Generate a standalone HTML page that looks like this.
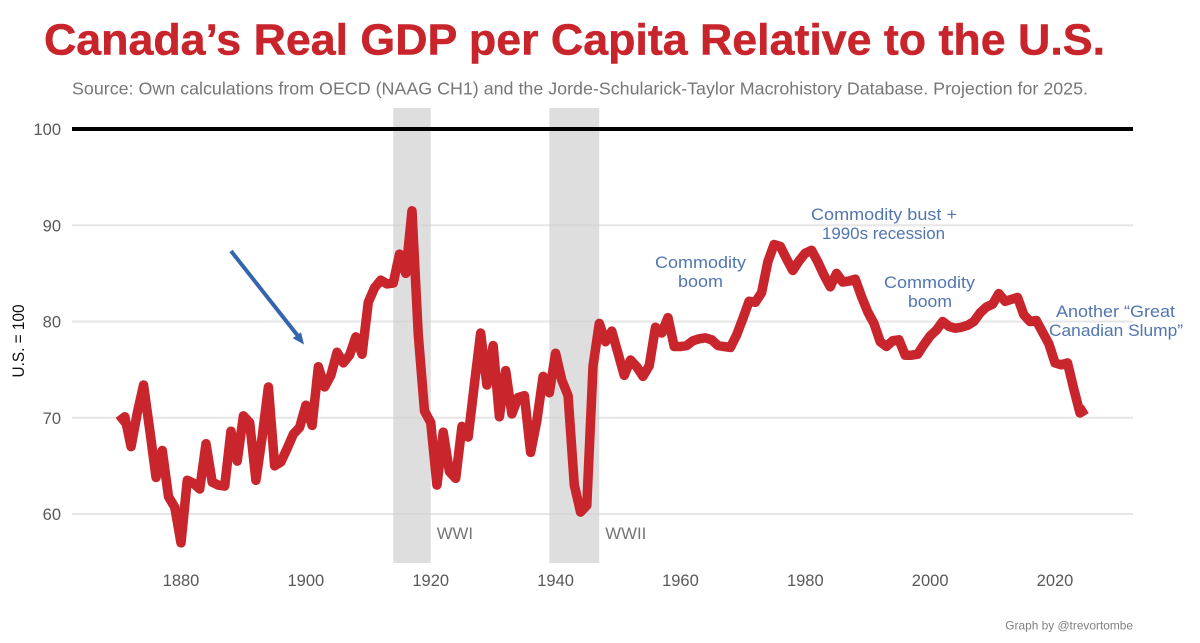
<!DOCTYPE html>
<html lang="en">
<head>
<meta charset="utf-8">
<title>Canada's Real GDP per Capita Relative to the U.S.</title>
<style>
html,body{margin:0;padding:0;background:#fff;width:1200px;height:643px;overflow:hidden}
svg{display:block;font-family:"Liberation Sans",sans-serif}
</style>
</head>
<body>
<svg id="chart" xmlns="http://www.w3.org/2000/svg" width="1200" height="643" viewBox="0 0 1200 643">
  <text x="44" y="54.5" font-size="44" font-weight="700" fill="#c8242b" stroke="#c8242b" stroke-width="0.5" textLength="1061" lengthAdjust="spacingAndGlyphs">Canada’s Real GDP per Capita Relative to the U.S.</text>
  <text x="72" y="94.5" font-size="17.6" fill="#777777" textLength="1016" lengthAdjust="spacingAndGlyphs">Source: Own calculations from OECD (NAAG CH1) and the Jorde-Schularick-Taylor Macrohistory Database. Projection for 2025.</text>
  <g id="grid"></g>
  <g id="shades"></g>
  <g id="gridOver"></g>
  <g id="yAxis"></g>
  <g id="xAxis"></g>
  <text transform="translate(24,341) rotate(-90)" text-anchor="middle" font-size="17" fill="#111" textLength="73" lengthAdjust="spacingAndGlyphs">U.S. = 100</text>
  <g id="series"></g>
  <g id="arrow"></g>
  <g font-size="16.6" fill="#5275b0">
    <text x="655" y="268" textLength="91" lengthAdjust="spacingAndGlyphs">Commodity</text>
    <text x="678" y="287" textLength="45" lengthAdjust="spacingAndGlyphs">boom</text>
    <text x="811" y="220" textLength="146" lengthAdjust="spacingAndGlyphs">Commodity bust +</text>
    <text x="822" y="239" textLength="123" lengthAdjust="spacingAndGlyphs">1990s recession</text>
    <text x="884" y="288" textLength="91" lengthAdjust="spacingAndGlyphs">Commodity</text>
    <text x="908" y="307" textLength="44" lengthAdjust="spacingAndGlyphs">boom</text>
    <text x="1056" y="317" textLength="119" lengthAdjust="spacingAndGlyphs">Another “Great</text>
    <text x="1049" y="336" textLength="134" lengthAdjust="spacingAndGlyphs">Canadian Slump”</text>
  </g>
  <text x="1133" y="629.5" font-size="11.9" fill="#808080" text-anchor="end">Graph by @trevortombe</text>
</svg>
<script>
const firstYear = 1870;
const gdpRelative = [
  69.6,70.1,67.0,70.5,73.4,68.7,63.8,66.6,61.8,60.7,
  57.0,63.5,63.2,62.6,67.3,63.3,63.0,62.9,68.6,65.5,
  70.2,69.5,63.5,68.0,73.2,65.0,65.4,66.8,68.3,69.0,
  71.3,69.2,75.3,73.2,74.4,76.8,75.7,76.5,78.4,76.6,
  82.0,83.5,84.3,83.9,84.0,87.0,85.0,91.5,78.7,70.7,
  69.5,63.0,68.5,64.4,63.7,69.1,68.0,73.5,78.8,73.4,
  77.5,70.1,74.9,70.4,72.1,72.3,66.4,69.7,74.3,72.6,
  76.7,73.9,72.3,63.0,60.2,60.9,75.4,79.8,77.9,79.0,
  76.7,74.4,76.0,75.3,74.3,75.4,79.4,78.8,80.4,77.4,
  77.4,77.5,78.0,78.2,78.3,78.1,77.5,77.4,77.3,78.6,
  80.3,82.1,82.0,83.0,86.2,88.0,87.8,86.5,85.3,86.3,
  87.1,87.4,86.2,84.8,83.6,85.0,84.1,84.2,84.4,82.6,
  81.0,79.8,77.9,77.4,78.0,78.1,76.5,76.5,76.6,77.6,
  78.5,79.1,80.0,79.5,79.3,79.4,79.6,80.0,80.9,81.5,
  81.8,82.9,82.1,82.3,82.5,80.7,80.0,80.1,78.9,77.7,
  75.7,75.5,75.7,73.0,70.5,70.9
];
const xTickLabels = [1880,1900,1920,1940,1960,1980,2000,2020];
const yTickLabels = [60,70,80,90,100];
const warNames = ["WWI","WWII"];
const warStarts = [1914,1939];
const warEnds = [1920,1947];

const NS = "http://www.w3.org/2000/svg";
const plotLeft = 72, plotRight = 1133, plotTop = 108, plotBottom = 563;
function xScale(year){ return 181 + (year - 1880) * 6.243; }
function yScale(v){ return 514 - (v - 60) * 9.625; }
function make(tag, attrs, parent, text){
  const el = document.createElementNS(NS, tag);
  for (const k in attrs) el.setAttribute(k, attrs[k]);
  if (text !== undefined) el.textContent = text;
  parent.appendChild(el);
  return el;
}
const grid = document.getElementById("grid");
const gridOver = document.getElementById("gridOver");
const shades = document.getElementById("shades");
const yAxis = document.getElementById("yAxis");
const xAxis = document.getElementById("xAxis");
const series = document.getElementById("series");
const arrow = document.getElementById("arrow");

yTickLabels.forEach(function(t){
  if (t !== 100) {
    const g = make("line", {x1:plotLeft, x2:plotRight, y1:yScale(t), y2:yScale(t), stroke:"#eeeeee", "stroke-width":2}, grid);
    
    
    const o = make("line", {x1:plotLeft, x2:plotRight, y1:yScale(t), y2:yScale(t), stroke:"#000", "stroke-opacity":0.03, "stroke-width":2}, gridOver);
    
    
  }
  const lab = make("text", {x:61, y:yScale(t)+6, "text-anchor":"end", "font-size":16.5, fill:"#595959"}, yAxis, String(t));
  
  
});

xTickLabels.forEach(function(t){
  const lab = make("text", {x:xScale(t), y:586, "text-anchor":"middle", "font-size":16.5, fill:"#595959"}, xAxis, String(t));
  
  
});

warNames.forEach(function(name, i){
  const r = make("rect", {x:xScale(warStarts[i]), y:plotTop, width:xScale(warEnds[i])-xScale(warStarts[i]), height:plotBottom-plotTop, fill:"#dedede"}, shades);
  
  
  const lab = make("text", {x:xScale(warEnds[i])+6, y:539, "font-size":16.8, fill:"#757575"}, shades, name);
  
  
});

const refLine = make("line", {x1:plotLeft, x2:plotRight, y1:yScale(100), y2:yScale(100), stroke:"#000", "stroke-width":4}, series);



const pathD = gdpRelative.map(function(v, i){
  return (i ? "L" : "M") + xScale(firstYear + i).toFixed(2) + " " + yScale(v).toFixed(2);
}).join(" ");
const gdpLine = make("path", {d:pathD, fill:"none", stroke:"#c9252c", "stroke-width":9.5, "stroke-linejoin":"round", "stroke-linecap":"butt"}, series);



const shaft = make("line", {x1:231, y1:251, x2:298, y2:336, stroke:"#3565ad", "stroke-width":4}, arrow);


const head = make("polygon", {points:"304,344.5 292.7,338.3 301,332.3", fill:"#3565ad"}, arrow);


</script>
</body>
</html>
